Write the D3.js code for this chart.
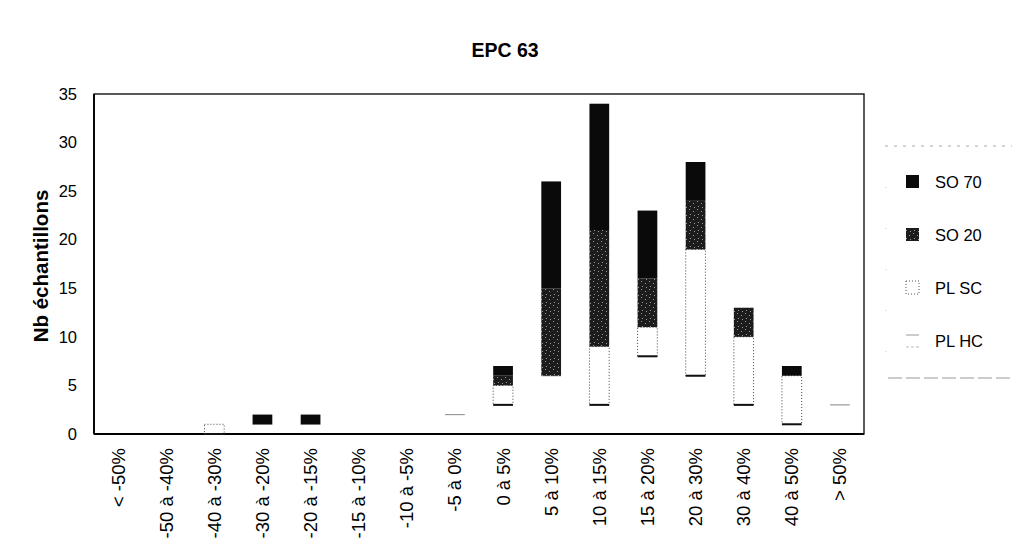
<!DOCTYPE html>
<html><head><meta charset="utf-8">
<script src="https://cdn.jsdelivr.net/npm/d3@7"></script>
<style>body{margin:0;background:#fff}svg{display:block;font-family:"Liberation Sans",Arial,sans-serif}</style>
</head><body>
<svg id="c" width="1012" height="558"></svg>
<script>
const categories = ["< -50%", "-50 à -40%", "-40 à -30%", "-30 à -20%", "-20 à -15%", "-15 à -10%", "-10 à -5%", "-5 à 0%", "0 à 5%", "5 à 10%", "10 à 15%", "15 à 20%", "20 à 30%", "30 à 40%", "40 à 50%", "> 50%"];
const plHC = [0,0,0,1,1,0,0,2,3,6,3,8,6,3,1,3];
const plSC = [0,0,1,0,0,0,0,0,2,0,6,3,13,7,5,0];
const so20 = [0,0,0,0,0,0,0,0,1,9,12,5,5,3,0,0];
const so70 = [0,0,0,1,1,0,0,0,1,11,13,7,4,0,1,0];
const yTicks = [0,5,10,15,20,25,30,35];
const seriesNames = ["PL HC","PL SC","SO 20","SO 70"];
const legendOrder = ["SO 70","SO 20","PL SC","PL HC"];

const svg = d3.select("#c");
const m = {l:94, r:864, t:94, b:434};
const x = d3.scaleBand().domain(categories).range([m.l, m.r]).paddingInner(0.59).paddingOuter(0.295);
const y = d3.scaleLinear().domain([0,35]).range([m.b, m.t]);

// SO 20 pattern
const defs = svg.append("defs");
const pat = defs.append("pattern").attr("id","so20p").attr("patternUnits","userSpaceOnUse").attr("width",8).attr("height",8);
pat.append("rect").attr("width",8).attr("height",8).attr("fill","#1c1c1c");
[[1,1],[5,3],[2,6],[6,7]].forEach(([a,b])=>pat.append("rect").attr("x",a).attr("y",b).attr("width",1).attr("height",1).attr("fill","#9a9a9a"));

const rows = categories.map((c,i)=>({cat:c,"PL HC":plHC[i],"PL SC":plSC[i],"SO 20":so20[i],"SO 70":so70[i]}));
const stack = d3.stack().keys(seriesNames)(rows);

// frame
svg.append("rect").attr("x",m.l).attr("y",m.t).attr("width",m.r-m.l).attr("height",m.b-m.t)
  .attr("fill","none").attr("stroke","#000").attr("stroke-width",1.3);
svg.append("line").attr("x1",m.l).attr("x2",m.r).attr("y1",m.b).attr("y2",m.b).attr("stroke","#000").attr("stroke-width",2);
svg.append("line").attr("x1",m.l).attr("x2",m.l).attr("y1",m.t).attr("y2",m.b).attr("stroke","#000").attr("stroke-width",1.8);

const bw = x.bandwidth();
const g = svg.append("g");
stack.forEach(s=>{
  s.forEach(d=>{
    const v = d[1]-d[0];
    if (v<=0) return;
    const xx = x(d.data.cat), y0 = y(d[0]), y1 = y(d[1]);
    if (s.key==="PL HC") {
      g.append("line").attr("x1",xx).attr("x2",xx+bw).attr("y1",y1).attr("y2",y1).attr("stroke","#999").attr("stroke-width",1.2);
    } else if (s.key==="PL SC") {
      g.append("rect").attr("x",xx).attr("y",y1).attr("width",bw).attr("height",y0-y1)
        .attr("fill","#fff").attr("stroke","#444").attr("stroke-width",1).attr("stroke-dasharray","1,2");
      g.append("line").attr("x1",xx).attr("x2",xx+bw).attr("y1",y0).attr("y2",y0).attr("stroke","#111").attr("stroke-width",2);
    } else if (s.key==="SO 20") {
      g.append("rect").attr("x",xx).attr("y",y1).attr("width",bw).attr("height",y0-y1).attr("fill","url(#so20p)");
    } else {
      g.append("rect").attr("x",xx).attr("y",y1).attr("width",bw).attr("height",y0-y1).attr("fill","#0a0a0a");
    }
  });
});

// y axis labels
const ya = svg.append("g").attr("transform",`translate(${m.l},0)`)
  .call(d3.axisLeft(y).tickValues(yTicks).tickSize(0).tickPadding(17));
ya.select(".domain").remove();
ya.selectAll("text").attr("font-size",16.5).attr("fill","#000").attr("font-family","Liberation Sans, Arial, sans-serif");

// x axis labels
const xa = svg.append("g").attr("transform",`translate(0,${m.b})`)
  .call(d3.axisBottom(x).tickSize(0).tickPadding(0));
xa.select(".domain").remove();
xa.selectAll("text").attr("font-size",18.5).attr("fill","#000").attr("font-family","Liberation Sans, Arial, sans-serif")
  .attr("text-anchor","end").attr("transform","translate(0,14) rotate(-90)").attr("dy","0.35em").attr("y",0).attr("x",0);

// title
svg.append("text").attr("x",505).attr("y",57).attr("text-anchor","middle").attr("font-weight","bold").attr("font-size",19.5).text("EPC 63");
// y label
svg.append("text").attr("transform","translate(48,266) rotate(-90)").attr("text-anchor","middle").attr("font-weight","bold").attr("font-size",20.5).text("Nb échantillons");

// legend frame (faint dotted edges)
svg.append("line").attr("x1",885).attr("x2",1012).attr("y1",146).attr("y2",146).attr("stroke","#aaa").attr("stroke-dasharray","3,6");
svg.append("line").attr("x1",888).attr("x2",1012).attr("y1",378).attr("y2",378).attr("stroke","#999").attr("stroke-dasharray","14,4");
svg.append("line").attr("x1",886).attr("x2",886).attr("y1",146).attr("y2",378).attr("stroke","#ccc").attr("stroke-dasharray","1,40");
const ly = d3.scalePoint().domain(legendOrder).range([182,341]);
legendOrder.forEach(k=>{
  const cy = ly(k);
  if (k==="SO 70") svg.append("rect").attr("x",906).attr("y",cy-7).attr("width",13).attr("height",13).attr("fill","#0a0a0a");
  else if (k==="SO 20") svg.append("rect").attr("x",906).attr("y",cy-7).attr("width",13).attr("height",13).attr("fill","url(#so20p)");
  else if (k==="PL SC") svg.append("rect").attr("x",906).attr("y",cy-7).attr("width",13).attr("height",13).attr("fill","#fff").attr("stroke","#555").attr("stroke-dasharray","1,2");
  else {
    svg.append("line").attr("x1",906).attr("x2",919).attr("y1",cy-6).attr("y2",cy-6).attr("stroke","#999");
    svg.append("line").attr("x1",906).attr("x2",919).attr("y1",cy+6).attr("y2",cy+6).attr("stroke","#bbb").attr("stroke-dasharray","3,2");
  }
  svg.append("text").attr("x",935).attr("y",cy).attr("dy","0.35em").attr("font-size",16.5).text(k);
});
</script>
</body></html>
